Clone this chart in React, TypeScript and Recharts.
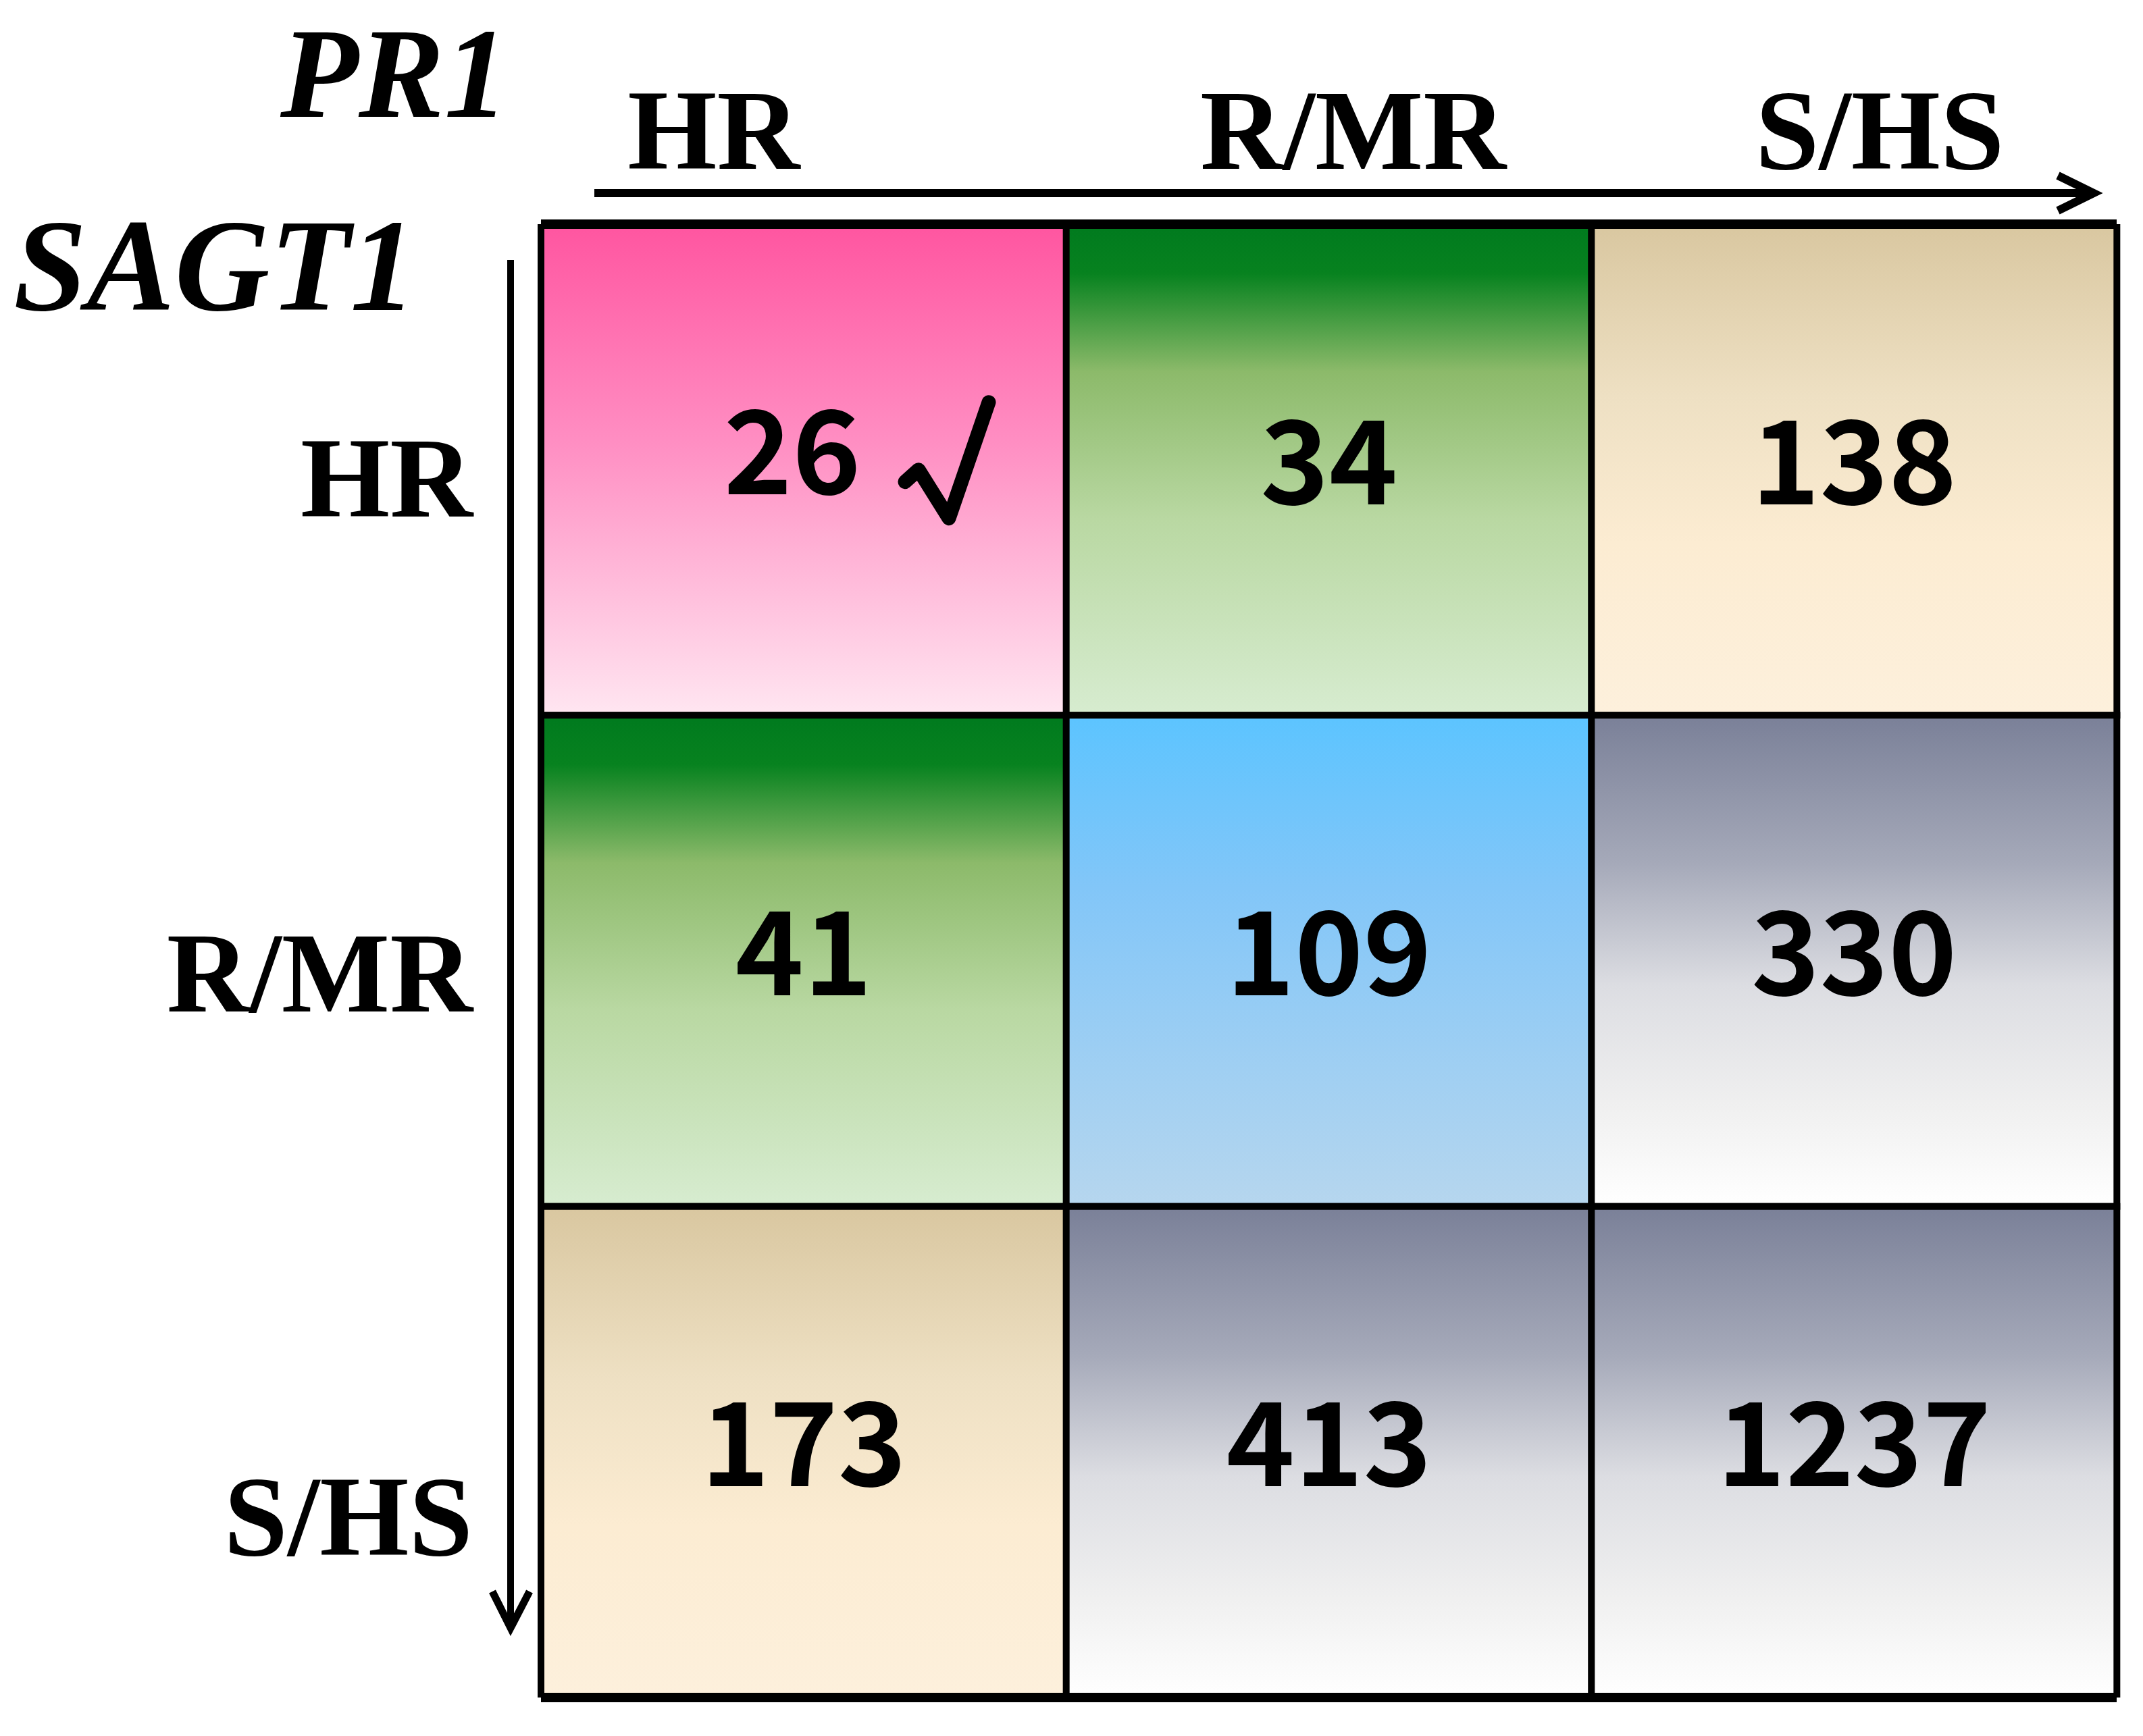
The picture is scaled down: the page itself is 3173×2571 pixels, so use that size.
import React from "react";
import {
  BarChart,
  Bar,
  XAxis,
  YAxis,
  Cell,
  LabelList,
  ReferenceLine,
  Customized,
} from "recharts";

// PR1 classes run across the top, SAGT1 classes down the side
const pr1Classes = ["HR", "R/MR", "S/HS"];
const sagt1Classes = ["HR", "R/MR", "S/HS"];

// number of lines in each SAGT1 (row) x PR1 (column) combination
const counts = [
  [26, 34, 138],
  [41, 109, 330],
  [173, 413, 1237],
];

const cellTone = [
  ["pink", "green", "tan"],
  ["green", "blue", "gray"],
  ["tan", "gray", "gray"],
];

const markedCells = ["0-0"];

const TONES: Record<string, [number, string][]> = {
  pink: [[0, "#ff55a0"], [0.45, "#ff8fc3"], [1, "#ffe6f1"]],
  green: [[0, "#007a1e"], [0.1, "#07821f"], [0.3, "#8cba6a"], [0.6, "#b9d8a2"], [1, "#d7ecd0"]],
  tan: [[0, "#d9c7a0"], [0.35, "#eee0c3"], [0.65, "#fcecd2"], [1, "#fdf0dc"]],
  blue: [[0, "#5cc4ff"], [0.35, "#82c6f8"], [1, "#b6d6ee"]],
  gray: [[0, "#7a8098"], [0.3, "#a5a9b9"], [0.55, "#dcdde2"], [0.8, "#f0f0f0"], [1, "#ffffff"]],
};

const serifStyle = { fontFamily: '"Liberation Serif", "Times New Roman", Times, serif' };
const sansStyle = { fontFamily: '"Noto Sans CJK KR", "Noto Sans", sans-serif' };

const chartData = pr1Classes.map((name) => {
  const row: Record<string, string | number> = { name };
  sagt1Classes.forEach((_, r) => {
    row[`r${r}`] = 1;
  });
  return row;
});

// small nudges so the headers sit where the original placed them
const columnShift: Record<string, number> = { HR: -133, "R/MR": 36, "S/HS": 38 };
const rowShift: Record<string, number> = { HR: 69, "R/MR": 75, "S/HS": 153 };

function ColumnTick(props: any) {
  const { x, y, payload } = props;
  return (
    <text
      x={x + (columnShift[payload.value] ?? 0)}
      y={y - 82}
      textAnchor="middle"
      style={serifStyle}
      fontWeight={700}
      fontSize={170}
      fill="#000"
    >
      {payload.value}
    </text>
  );
}

function RowTick(props: any) {
  const { x, y, payload } = props;
  const label = sagt1Classes[Math.floor(payload.value)];
  return (
    <text
      x={x - 101}
      y={y + (rowShift[label] ?? 72)}
      textAnchor="end"
      style={serifStyle}
      fontWeight={700}
      fontSize={170}
      fill="#000"
    >
      {label}
    </text>
  );
}

function countLabel(row: number) {
  return (props: any) => {
    const { x, y, width, height, index } = props;
    const cx = x + width / 2;
    const cy = y + height / 2;
    const marked = markedCells.includes(`${row}-${index}`);
    return (
      <g>
        <text
          x={cx - (marked ? 17 : 0)}
          y={cy + (marked ? 36 : 51)}
          textAnchor="middle"
          style={sansStyle}
          fontWeight={700}
          fontSize={172}
          fill="#000"
        >
          {counts[row][index]}
        </text>
        {marked && (
          <polyline
            points={`${cx + 150},${cy + 18} ${cx + 170},${cy} ${cx + 215},${cy + 72} ${cx + 274},${cy - 100}`}
            fill="none"
            stroke="#000"
            strokeWidth={21}
            strokeLinejoin="round"
            strokeLinecap="round"
          />
        )}
      </g>
    );
  };
}

function Decorations() {
  return (
    <g>
      <text x={415} y={173} style={serifStyle} fontStyle="italic" fontWeight={700} fontSize={190}>
        PR1
      </text>
      <text x={20} y={459} style={serifStyle} fontStyle="italic" fontWeight={700} fontSize={195}>
        SAGT1
      </text>
      <line x1={880} y1={286} x2={3096} y2={286} stroke="#000" strokeWidth={12} />
      <polyline
        points="3047,260 3100,286 3047,312"
        fill="none"
        stroke="#000"
        strokeWidth={12}
      />
      <line x1={756} y1={385} x2={756} y2={2406} stroke="#000" strokeWidth={10} />
      <polyline
        points="729,2357 756,2411 784,2357"
        fill="none"
        stroke="#000"
        strokeWidth={11}
      />
    </g>
  );
}

export default function App() {
  return (
    <div style={{ width: 3173, height: 2571, background: "#fff" }}>
      <style>{"body{margin:0;background:#fff}"}</style>
      <BarChart
        width={3173}
        height={2571}
        data={chartData}
        barCategoryGap={0}
        margin={{ top: 0, right: 39, bottom: 57, left: 0 }}
      >
        <defs>
          {Object.entries(TONES).map(([tone, stops]) => (
            <linearGradient key={tone} id={`tone-${tone}`} x1="0" y1="0" x2="0" y2="1">
              {stops.map(([offset, color]) => (
                <stop key={offset} offset={offset} stopColor={color} />
              ))}
            </linearGradient>
          ))}
        </defs>
        <XAxis
          dataKey="name"
          orientation="top"
          height={332}
          axisLine={false}
          tickLine={false}
          tickSize={0}
          tickMargin={0}
          interval={0}
          tick={<ColumnTick />}
        />
        <YAxis
          type="number"
          domain={[0, 3]}
          allowDataOverflow
          reversed
          ticks={[0.5, 1.5, 2.5]}
          width={801}
          axisLine={false}
          tickLine={false}
          tickSize={0}
          tickMargin={0}
          interval={0}
          tick={<RowTick />}
        />
        {sagt1Classes.map((cls, r) => (
          <Bar
            key={cls}
            dataKey={`r${r}`}
            stackId="grid"
            stroke="#000"
            strokeWidth={10}
            isAnimationActive={false}
          >
            {pr1Classes.map((col, c) => (
              <Cell key={col} fill={`url(#tone-${cellTone[r][c]})`} />
            ))}
            <LabelList content={countLabel(r)} />
          </Bar>
        ))}
        <ReferenceLine y={0} stroke="#000" strokeWidth={14} />
        <ReferenceLine y={3} stroke="#000" strokeWidth={14} />
        <Customized component={Decorations} />
      </BarChart>
    </div>
  );
}
